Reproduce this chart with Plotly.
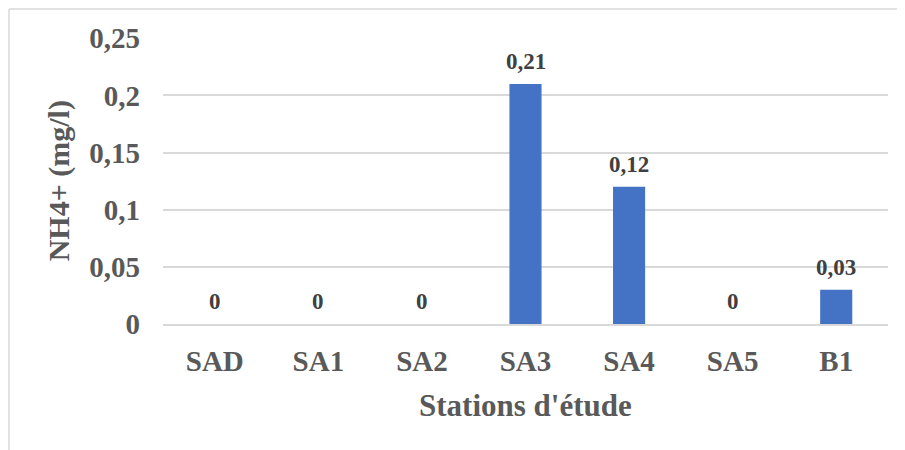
import plotly.graph_objects as go

stations = ["SAD", "SA1", "SA2", "SA3", "SA4", "SA5", "B1"]
nh4 = [0, 0, 0, 0.21, 0.12, 0, 0.03]
labels = ["0", "0", "0", "0,21", "0,12", "0", "0,03"]
y_ticks = [0, 0.05, 0.1, 0.15, 0.2, 0.25]
y_ticktext = ["0", "0,05", "0,1", "0,15", "0,2", "0,25"]

FONT = "Liberation Serif, Times New Roman, serif"

# page body has an 8px default margin, so the figure starts at (8, 8)
L, T, PW, PH = 155, 30, 725, 286

fig = go.Figure()
fig.add_trace(go.Bar(
    x=stations, y=nh4,
    marker=dict(color="#4472C4", line=dict(width=0)),
    width=0.31,
    hoverinfo="skip",
))

for s, v, t in zip(stations, nh4, labels):
    fig.add_annotation(
        x=s, y=v, text="<b>%s</b>" % t, showarrow=False,
        yanchor="bottom", yshift=8,
        font=dict(family=FONT, size=23, color="#404040"),
    )

# axis titles
fig.add_annotation(
    xref="paper", yref="paper", x=0.5, y=-0.285, text="<b>Stations d'étude</b>",
    showarrow=False, xanchor="center", yanchor="middle",
    font=dict(family=FONT, size=31, color="#595959"),
)
fig.add_annotation(
    xref="paper", yref="paper", x=-0.143, y=0.5, text="<b>NH4+ (mg/l)</b>",
    showarrow=False, xanchor="center", yanchor="middle", textangle=-90,
    font=dict(family=FONT, size=30, color="#595959"),
)

# outer chart border (top and left)
bx = (1 - L) / PW
by = (T + PH - 1) / PH
fig.add_shape(type="line", xref="paper", yref="paper",
              x0=bx, x1=(905 - L) / PW, y0=by, y1=by,
              line=dict(color="#d9d9d9", width=1.5))
fig.add_shape(type="line", xref="paper", yref="paper",
              x0=bx, x1=bx, y0=by, y1=-0.6,
              line=dict(color="#d9d9d9", width=1.5))

fig.update_layout(
    width=897, height=442,
    margin=dict(l=L, r=17, t=T, b=126),
    paper_bgcolor="white", plot_bgcolor="white",
    showlegend=False,
    font=dict(family=FONT, color="#595959"),
    xaxis=dict(
        showgrid=False, showline=True, linecolor="#d9d9d9", linewidth=1.5,
        ticks="", ticklabelstandoff=10,
        tickfont=dict(family=FONT, size=29, color="#595959", weight="bold"),
    ),
    yaxis=dict(
        range=[0, 0.2502], tickvals=y_ticks, ticktext=y_ticktext,
        showgrid=True, gridcolor="#d9d9d9", gridwidth=1.5,
        zeroline=False, showline=False, ticks="", ticklabelstandoff=22,
        tickfont=dict(family=FONT, size=29, color="#595959", weight="bold"),
    ),
)

fig.write_html("out.html")
